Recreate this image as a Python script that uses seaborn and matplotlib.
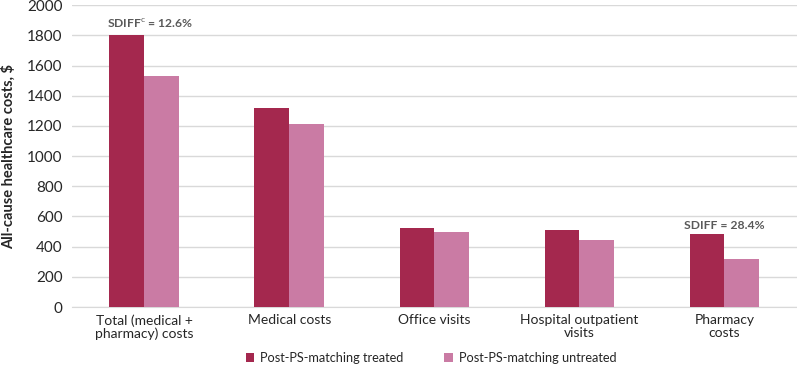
import matplotlib
matplotlib.use('Agg')
import matplotlib.pyplot as plt
import pandas as pd
import seaborn as sns

# Data
categories = ['Total (medical +\npharmacy) costs', 'Medical costs', 'Office visits',
              'Hospital outpatient\nvisits', 'Pharmacy\ncosts']
treated = [1802, 1316, 525, 510, 485]
untreated = [1533, 1213, 496, 443, 317]
series = ['Post-PS-matching treated', 'Post-PS-matching untreated']
colors = ['#A4284E', '#CA7BA4']

notes = [r'SDIFF$^{\mathrm{c}}$ = 12.6%', 'SDIFF = 28.4%']
note_cats = [0.04, 4.0]
note_y = [1880, 540]

df = pd.DataFrame({
    'category': categories * 2,
    'cost': treated + untreated,
    'group': [series[0]] * len(categories) + [series[1]] * len(categories),
})

sns.set_style('white')
plt.rcParams['font.family'] = ['Lato', 'DejaVu Sans']
plt.rcParams['mathtext.fontset'] = 'custom'
plt.rcParams['mathtext.rm'] = 'Lato'

fig, ax = plt.subplots(figsize=(7.97, 3.66), dpi=100)
fig.subplots_adjust(left=0.09, right=1.0, top=0.986, bottom=0.161)

sns.barplot(data=df, x='category', y='cost', hue='group', palette=colors,
            width=0.48, saturation=1, linewidth=0, ax=ax, zorder=3)

ax.set_ylim(0, 2000)
ax.set_yticks(range(0, 2001, 200))
ax.set_xlim(-0.5, len(categories) - 0.5)
ax.yaxis.grid(True, color='#D9D9D9', linewidth=1, zorder=0)
ax.set_axisbelow(True)
for side in ['left', 'top', 'right']:
    ax.spines[side].set_visible(False)
ax.spines['bottom'].set_color('#D9D9D9')
ax.tick_params(axis='y', length=0, labelsize=11, labelcolor='#262626', pad=6.5)
ax.tick_params(axis='x', length=0, labelsize=10, labelcolor='#262626', pad=5)
for lab in ax.get_xticklabels():
    lab.set_linespacing(1.05)
ax.set_xlabel('')
ax.set_ylabel('All-cause healthcare costs, $', fontsize=10.5, fontweight='bold', color='#262626', labelpad=8)

for txt, c, y in zip(notes, note_cats, note_y):
    ax.text(c, y, txt, ha='center', va='center', fontsize=8.7, fontweight='bold', color='#595959')

leg = ax.legend(loc='center', ncol=2, frameon=False, fontsize=9.2, handlelength=0.65, handleheight=0.65,
                columnspacing=3.2, handletextpad=0.5, labelcolor='#262626')
leg.set_bbox_to_anchor((0.541, 0.022), transform=fig.transFigure)

fig.savefig('out.png', dpi=100)
